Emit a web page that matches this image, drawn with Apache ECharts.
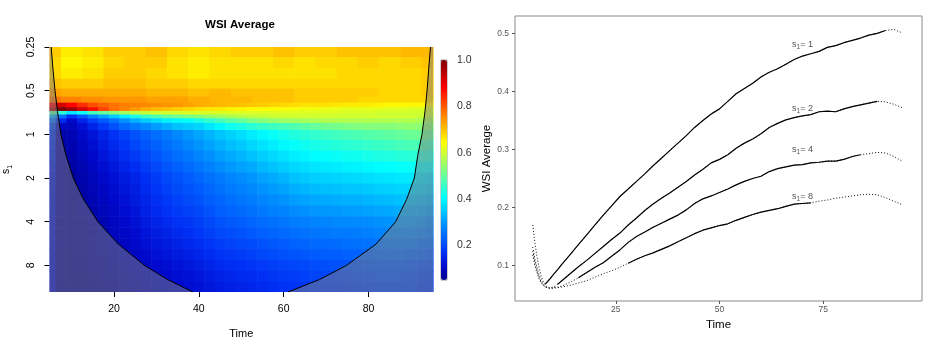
<!DOCTYPE html>
<html>
<head>
<meta charset="utf-8">
<title>WSI Average</title>
<script src="https://cdn.jsdelivr.net/npm/echarts@6/dist/echarts.min.js"></script>
<style>
  html, body { margin: 0; padding: 0; background: #fff; }
  #chart { width: 939px; height: 352px; }
</style>
</head>
<body>
<div id="chart"></div>
<script>
const FONT = '"Liberation Sans", Arial, Helvetica, sans-serif'

// ---- left panel: WSI average over time and scale ----
// upper band (small scales) is nearly flat, read at a coarser time step
const heatTimesTop = [5, 10, 15, 20, 25, 30, 35, 40, 45, 50, 55, 60, 65, 70, 75, 80, 85, 90, 95]
const heatScalesTop = [0.27, 0.32, 0.38, 0.45, 0.52, 0.58]
const heatValuesTop = [
  [0.69, 0.66, 0.67, 0.69, 0.69, 0.70, 0.68, 0.67, 0.68, 0.69, 0.69, 0.70, 0.69, 0.69, 0.70, 0.70, 0.70, 0.71, 0.71],
  [0.68, 0.65, 0.66, 0.68, 0.69, 0.69, 0.67, 0.66, 0.67, 0.67, 0.67, 0.68, 0.67, 0.68, 0.68, 0.69, 0.68, 0.69, 0.70],
  [0.68, 0.66, 0.67, 0.69, 0.69, 0.68, 0.67, 0.66, 0.67, 0.67, 0.67, 0.67, 0.67, 0.67, 0.68, 0.68, 0.68, 0.68, 0.69],
  [0.70, 0.69, 0.69, 0.70, 0.70, 0.69, 0.69, 0.68, 0.68, 0.68, 0.68, 0.68, 0.68, 0.68, 0.68, 0.68, 0.68, 0.68, 0.69],
  [0.73, 0.72, 0.72, 0.72, 0.72, 0.71, 0.71, 0.70, 0.71, 0.70, 0.70, 0.70, 0.69, 0.69, 0.69, 0.69, 0.68, 0.68, 0.69],
  [0.77, 0.76, 0.75, 0.74, 0.74, 0.73, 0.73, 0.72, 0.71, 0.71, 0.70, 0.70, 0.69, 0.69, 0.69, 0.68, 0.68, 0.68, 0.68]
]
// transition band and large scales, read every 2.5 time units
const heatTimesLow = [5, 7.5, 10, 12.5, 15, 17.5, 20, 22.5, 25, 27.5, 30, 32.5, 35, 37.5, 40, 42.5, 45, 47.5, 50,
  52.5, 55, 57.5, 60, 62.5, 65, 67.5, 70, 72.5, 75, 77.5, 80, 82.5, 85, 87.5, 90, 92.5, 95]
const heatScalesLow = [0.63, 0.67, 0.71, 0.75, 0.8, 0.87, 1, 1.19, 1.41, 1.68, 2, 2.38, 2.83, 3.36,
  4, 4.76, 5.66, 6.73, 8, 9.51, 11.3]
const heatValuesLow = [
  [.88, .92, .88, .84, .81, .79, .775, .765, .76, .755, .75, .745, .74, .73, .72, .715, .71, .705, .70, .695, .69, .685, .68, .675, .67, .67, .67, .665, .66, .66, .66, .655, .65, .65, .65, .65, .65],
  [.95, 1.0, .97, .92, .87, .82, .78, .76, .74, .72, .71, .70, .69, .68, .67, .665, .66, .655, .65, .645, .64, .64, .635, .635, .63, .63, .625, .625, .62, .62, .62, .62, .615, .615, .61, .61, .61],
  [.50, .45, .38, .42, .47, .50, .53, .56, .58, .59, .60, .60, .605, .61, .61, .61, .61, .61, .61, .61, .61, .61, .61, .61, .61, .61, .61, .61, .605, .605, .605, .60, .60, .60, .60, .60, .60],
  [.33, .25, .17, .22, .27, .31, .35, .39, .43, .46, .48, .50, .51, .52, .53, .545, .555, .565, .575, .585, .59, .595, .60, .60, .60, .60, .60, .60, .60, .60, .60, .60, .60, .60, .60, .595, .59],
  [.25, .16, .11, .15, .19, .22, .25, .29, .32, .35, .37, .39, .40, .41, .43, .45, .47, .49, .50, .52, .53, .54, .55, .555, .56, .565, .57, .57, .57, .57, .57, .57, .57, .57, .57, .565, .56],
  [.20, .10, .095, .12, .15, .18, .21, .24, .26, .28, .30, .32, .34, .35, .36, .38, .40, .42, .43, .445, .455, .465, .47, .48, .49, .50, .51, .515, .52, .525, .53, .53, .53, .535, .54, .535, .53],
  [.170, .073, .085, .106, .127, .149, .170, .191, .211, .229, .245, .261, .278, .295, .311, .327, .344, .358, .370, .386, .400, .412, .425, .435, .443, .453, .461, .466, .472, .478, .484, .489, .494, .499, .505, .506, .500],
  [.160, .072, .080, .099, .118, .138, .158, .177, .196, .213, .229, .245, .261, .277, .292, .307, .323, .337, .348, .363, .376, .388, .400, .411, .419, .428, .435, .440, .445, .450, .455, .460, .465, .470, .474, .474, .467],
  [.151, .071, .074, .092, .110, .128, .146, .164, .181, .198, .214, .230, .245, .259, .273, .288, .303, .316, .327, .340, .353, .364, .376, .388, .396, .404, .410, .414, .419, .422, .427, .432, .436, .441, .444, .442, .435],
  [.142, .070, .069, .084, .101, .117, .133, .150, .165, .183, .198, .214, .228, .241, .254, .268, .282, .295, .305, .316, .330, .340, .352, .364, .372, .379, .384, .387, .392, .394, .399, .404, .407, .411, .413, .409, .403],
  [.132, .069, .063, .077, .092, .106, .121, .136, .150, .167, .182, .198, .211, .223, .235, .248, .261, .274, .283, .293, .306, .316, .327, .340, .348, .354, .358, .361, .365, .366, .370, .375, .378, .382, .382, .377, .370],
  [.130, .069, .063, .074, .088, .101, .115, .129, .143, .160, .174, .189, .201, .212, .223, .236, .249, .260, .269, .278, .290, .299, .309, .321, .328, .334, .337, .340, .344, .345, .348, .354, .357, .360, .360, .355, .347],
  [.129, .068, .063, .072, .084, .096, .109, .122, .136, .152, .166, .179, .191, .201, .211, .224, .236, .247, .255, .264, .274, .283, .291, .302, .308, .313, .316, .319, .322, .323, .327, .332, .335, .339, .338, .332, .324],
  [.127, .068, .062, .069, .079, .091, .103, .115, .128, .145, .158, .170, .180, .189, .199, .211, .224, .233, .240, .249, .258, .266, .272, .282, .288, .293, .295, .298, .301, .302, .305, .311, .314, .317, .316, .310, .301],
  [.125, .067, .062, .066, .075, .086, .097, .108, .121, .137, .150, .160, .170, .178, .187, .199, .211, .219, .226, .234, .242, .249, .254, .263, .268, .272, .274, .277, .279, .280, .283, .289, .292, .295, .294, .287, .278],
  [.123, .067, .062, .065, .073, .083, .093, .103, .114, .128, .140, .150, .159, .167, .176, .187, .198, .205, .212, .219, .227, .233, .239, .246, .251, .255, .257, .260, .262, .264, .267, .272, .275, .277, .275, .268, .259],
  [.122, .067, .062, .065, .072, .080, .089, .098, .108, .120, .131, .139, .148, .156, .164, .175, .185, .192, .198, .204, .211, .218, .223, .230, .234, .239, .241, .243, .246, .248, .251, .255, .257, .259, .256, .249, .241],
  [.120, .066, .061, .064, .070, .076, .084, .092, .101, .111, .121, .129, .136, .144, .153, .162, .171, .178, .183, .189, .196, .202, .208, .213, .217, .222, .224, .226, .229, .231, .234, .238, .240, .240, .236, .229, .222],
  [.118, .066, .061, .063, .068, .073, .080, .087, .094, .102, .111, .118, .125, .133, .141, .150, .158, .164, .169, .174, .180, .186, .192, .196, .200, .205, .207, .209, .212, .215, .218, .221, .222, .222, .217, .210, .203],
  [.116, .065, .060, .062, .066, .070, .076, .082, .088, .095, .103, .109, .116, .123, .131, .139, .147, .153, .158, .163, .169, .175, .181, .184, .188, .193, .195, .197, .200, .203, .206, .209, .210, .210, .206, .199, .192],
  [.114, .064, .060, .061, .064, .067, .072, .077, .083, .089, .096, .102, .108, .115, .123, .130, .138, .144, .149, .154, .159, .165, .171, .174, .178, .183, .185, .187, .190, .193, .195, .198, .199, .199, .196, .190, .183]
]

// cone of influence (time at each scale)
const coneScales = [0.25, 0.35, 0.5, 0.7, 1, 1.4, 2, 2.8, 4, 5.7, 8, 10, 12.2]
const coneLeft = [5.2, 5.6, 6.1, 6.7, 7.5, 8.7, 10.4, 12.8, 16.2, 21.0, 27.2, 32.6, 38.6]
const coneRight = [94.6, 94.2, 93.8, 93.3, 92.6, 91.6, 90.8, 89.0, 86.4, 81.8, 74.8, 68.5, 61.0]

const scaleTicks = [0.25, 0.5, 1, 2, 4, 8]
const timeTicksLeft = [20, 40, 60, 80]
const colorTicks = [0.2, 0.4, 0.6, 0.8, 1.0]

// ---- right panel: WSI average at fixed scales ----
const lineTimes = [5, 5.5, 6, 6.5, 7, 7.5, 8, 9, 10, 11, 12, 14, 16, 18, 20, 22, 24, 26, 28, 30,
  32, 34, 36, 38, 40, 42, 44, 46, 48, 50, 52, 54, 56, 58, 60, 62, 64, 66, 68, 70,
  72, 74, 76, 78, 80, 82, 84, 86, 88, 90, 92, 94]
const wsiS1 = [0.170, 0.140, 0.116, 0.097, 0.083, 0.073, 0.068, 0.076, 0.085, 0.093, 0.102, 0.119, 0.136, 0.153, 0.170, 0.187, 0.203, 0.219, 0.232, 0.245,
  0.258, 0.272, 0.285, 0.298, 0.311, 0.324, 0.338, 0.350, 0.361, 0.370, 0.383, 0.396, 0.405, 0.414, 0.425, 0.433, 0.439, 0.447, 0.455, 0.461,
  0.465, 0.469, 0.476, 0.479, 0.484, 0.488, 0.492, 0.497, 0.500, 0.505, 0.507, 0.501]
const wsiS2 = [0.132, 0.112, 0.097, 0.085, 0.076, 0.069, 0.065, 0.062, 0.063, 0.068, 0.074, 0.086, 0.098, 0.109, 0.121, 0.133, 0.145, 0.156, 0.170, 0.182,
  0.195, 0.206, 0.216, 0.225, 0.235, 0.245, 0.256, 0.266, 0.277, 0.283, 0.291, 0.302, 0.311, 0.318, 0.327, 0.338, 0.345, 0.351, 0.355, 0.358,
  0.360, 0.365, 0.366, 0.365, 0.370, 0.374, 0.377, 0.380, 0.383, 0.382, 0.378, 0.372]
const wsiS4 = [0.125, 0.106, 0.092, 0.080, 0.072, 0.067, 0.063, 0.061, 0.062, 0.063, 0.065, 0.071, 0.079, 0.088, 0.097, 0.105, 0.116, 0.127, 0.140, 0.150,
  0.158, 0.166, 0.173, 0.180, 0.187, 0.196, 0.207, 0.215, 0.220, 0.226, 0.232, 0.239, 0.245, 0.250, 0.254, 0.262, 0.267, 0.270, 0.273, 0.274,
  0.277, 0.278, 0.280, 0.280, 0.283, 0.288, 0.291, 0.293, 0.295, 0.294, 0.288, 0.280]
const wsiS8 = [0.118, 0.100, 0.088, 0.077, 0.070, 0.066, 0.063, 0.061, 0.061, 0.062, 0.063, 0.066, 0.070, 0.074, 0.080, 0.086, 0.091, 0.097, 0.104, 0.111,
  0.117, 0.122, 0.128, 0.134, 0.141, 0.148, 0.155, 0.161, 0.165, 0.169, 0.172, 0.178, 0.183, 0.188, 0.192, 0.195, 0.198, 0.202, 0.206, 0.207,
  0.208, 0.211, 0.213, 0.216, 0.218, 0.220, 0.222, 0.223, 0.222, 0.217, 0.211, 0.205]
const lineScales = [1, 2, 4, 8]
const solidFrom = [8, 11, 16, 28]   // inside the cone -> solid
const solidTo = [90, 88, 84, 72]
const labelTime = 70
const labelValues = [0.481, 0.371, 0.300, 0.219]
const timeTicksRight = [25, 50, 75]
const wsiTicks = [0.1, 0.2, 0.3, 0.4, 0.5]

// jet-like palette, stops every 1/16 of the range (blues a touch lighter, as in the picture)
const palette = ['#00008F', '#0008CC', '#0030F5', '#0060FF', '#0090FF', '#00C8FF', '#00FFFF', '#40FFBF', '#80FF80',
  '#BFFF40', '#FFFF00', '#FFBF00', '#FF8000', '#FF4000', '#FF0000', '#BF0000', '#800000']

// cell bounds for the heatmap rectangles
const allScales = heatScalesTop.concat(heatScalesLow)
const scaleEdges = allScales.map((s, j) => [
  j === 0 ? 0.25 : Math.sqrt(allScales[j - 1] * s),
  j === allScales.length - 1 ? 12.2 : Math.sqrt(s * allScales[j + 1])
])
function timeEdgesOf(times) {
  return times.map((t, i) => [
    i === 0 ? 4.8 : (times[i - 1] + t) / 2,
    i === times.length - 1 ? 95.2 : (t + times[i + 1]) / 2
  ])
}
const heatCells = []
function addCells(times, values, rowOffset) {
  const te = timeEdgesOf(times)
  values.forEach((row, j) => {
    const se = scaleEdges[j + rowOffset]
    row.forEach((v, i) => heatCells.push([te[i][0], te[i][1], se[0], se[1], v]))
  })
}
addCells(heatTimesTop, heatValuesTop, 0)
addCells(heatTimesLow, heatValuesLow, heatScalesTop.length)

const wsiSeries = [wsiS1, wsiS2, wsiS4, wsiS8]
const lineSeries = []
wsiSeries.forEach((vals, k) => {
  const pts = lineTimes.map((t, i) => [t, vals[i]])
  lineSeries.push({
    type: 'line', xAxisIndex: 1, yAxisIndex: 1, data: pts, symbol: 'none', silent: true,
    lineStyle: { color: '#111', width: 1, type: [1, 2] }
  })
  lineSeries.push({
    type: 'line', xAxisIndex: 1, yAxisIndex: 1, symbol: 'none', silent: true,
    data: pts.filter(p => p[0] >= solidFrom[k] && p[0] <= solidTo[k]),
    lineStyle: { color: '#000', width: 1.2 }
  })
})

const subRich = {
  s: { fontSize: 9, color: '#222', fontFamily: FONT, lineHeight: 13 },
  sub: { fontSize: 6.5, color: '#222', fontFamily: FONT, lineHeight: 13, verticalAlign: 'bottom' }
}

const chart = echarts.init(document.getElementById('chart'))
chart.setOption({
  animation: false,
  backgroundColor: '#fff',
  textStyle: { fontFamily: FONT },
  title: {
    text: 'WSI Average', left: 240, top: 19, textAlign: 'center', padding: 0,
    textStyle: { fontSize: 11.5, fontWeight: 'bold', color: '#000', fontFamily: FONT }
  },
  grid: [
    { left: 48, top: 47, width: 385, height: 245 },
    { left: 515, top: 16, width: 407, height: 285, show: true, borderColor: '#8a8a8a', borderWidth: 1 },
    { left: 441, top: 60, width: 6, height: 220, show: true, borderColor: '#555', borderWidth: 0.6 }
  ],
  visualMap: {
    type: 'continuous', seriesIndex: 0, dimension: 4, min: 0.05, max: 1.0,
    left: 441, top: 60, itemWidth: 6, itemHeight: 220, padding: 0,
    calculable: false, hoverLink: false, text: null,
    inRange: { color: palette }
  },
  xAxis: [
    {
      gridIndex: 0, type: 'value', min: 4.8, max: 95.2,
      name: 'Time', nameLocation: 'middle', nameGap: 36,
      nameTextStyle: { fontSize: 11, color: '#000' },
      axisLine: { show: false }, splitLine: { show: false },
      axisTick: { show: true, length: 5, customValues: timeTicksLeft, lineStyle: { color: '#000' } },
      axisLabel: { customValues: timeTicksLeft, fontSize: 10.5, color: '#000', margin: 12 }
    },
    {
      gridIndex: 1, type: 'value', min: 0.72, max: 98.8,
      name: 'Time', nameLocation: 'middle', nameGap: 11,
      nameTextStyle: { fontSize: 11.5, color: '#000' },
      axisLine: { show: false }, splitLine: { show: false },
      axisTick: { show: true, length: 3, customValues: timeTicksRight, lineStyle: { color: '#555' } },
      axisLabel: { customValues: timeTicksRight, fontSize: 8.5, color: '#555', margin: 4 }
    },
    { gridIndex: 2, type: 'value', show: false, min: 0, max: 1 }
  ],
  yAxis: [
    {
      gridIndex: 0, type: 'log', logBase: 2, min: 0.25, max: 12.2, inverse: true,
      name: '{s|s}{sub|1}', nameLocation: 'middle', nameGap: 36,
      nameTextStyle: { rich: { s: { fontSize: 10.5, color: '#000', lineHeight: 14 }, sub: { fontSize: 7, color: '#000', lineHeight: 14, verticalAlign: 'bottom' } } },
      axisLine: { show: false }, splitLine: { show: false },
      axisTick: { show: true, length: 5, customValues: scaleTicks, lineStyle: { color: '#000' } },
      axisLabel: { customValues: scaleTicks, rotate: 90, fontSize: 10.5, color: '#000', margin: 13,
        formatter: v => String(+(+v).toFixed(2)) }
    },
    {
      gridIndex: 1, type: 'value', min: 0.039, max: 0.53,
      name: 'WSI Average', nameLocation: 'middle', nameGap: 17,
      nameTextStyle: { fontSize: 11.5, color: '#000' },
      axisLine: { show: false }, splitLine: { show: false },
      axisTick: { show: true, length: 3, customValues: wsiTicks, lineStyle: { color: '#555' } },
      axisLabel: { customValues: wsiTicks, fontSize: 8.5, color: '#555', margin: 6, formatter: v => (+v).toFixed(1) }
    },
    {
      gridIndex: 2, type: 'value', position: 'right', min: 0.05, max: 1.0,
      axisLine: { show: false }, splitLine: { show: false },
      axisTick: { show: true, length: 4, customValues: colorTicks, lineStyle: { color: '#444' } },
      axisLabel: { customValues: colorTicks, fontSize: 10.5, color: '#333', margin: 10, formatter: v => (+v).toFixed(1) }
    }
  ],
  series: [
    {
      type: 'custom', xAxisIndex: 0, yAxisIndex: 0, data: heatCells, silent: true, clip: true,
      encode: { x: [0, 1], y: [2, 3] },
      renderItem: (params, api) => {
        const a = api.coord([api.value(0), api.value(2)])
        const b = api.coord([api.value(1), api.value(3)])
        return {
          type: 'rect',
          shape: {
            x: Math.min(a[0], b[0]), y: Math.min(a[1], b[1]),
            width: Math.abs(b[0] - a[0]) + 0.6, height: Math.abs(b[1] - a[1]) + 0.6
          },
          style: { fill: api.visual('color') }
        }
      }
    },
    {
      // shading outside the cone of influence
      type: 'custom', xAxisIndex: 0, yAxisIndex: 0, silent: true, clip: true,
      data: [[4.8, 0.25], [95.2, 0.25]],
      encode: { x: 0, y: 1 },
      renderItem: (params, api) => {
        const side = params.dataIndex === 0 ? coneLeft : coneRight
        const edge = params.dataIndex === 0 ? 4.8 : 95.2
        const pts = [api.coord([edge, 0.25])]
        coneScales.forEach((s, k) => pts.push(api.coord([side[k], s])))
        pts.push(api.coord([edge, 12.2]))
        return { type: 'polygon', shape: { points: pts }, style: { fill: 'rgba(128,128,128,0.5)' } }
      }
    },
    {
      type: 'line', xAxisIndex: 0, yAxisIndex: 0, symbol: 'none', silent: true,
      data: coneScales.map((s, k) => [coneLeft[k], s]),
      lineStyle: { color: '#000', width: 1 }
    },
    {
      type: 'line', xAxisIndex: 0, yAxisIndex: 0, symbol: 'none', silent: true,
      data: coneScales.map((s, k) => [coneRight[k], s]),
      lineStyle: { color: '#000', width: 1 }
    },
    ...lineSeries,
    {
      type: 'scatter', xAxisIndex: 1, yAxisIndex: 1, symbolSize: 0, silent: true,
      data: labelValues.map(v => [labelTime, v]),
      label: {
        show: true, position: 'inside',
        formatter: p => '{s|s}{sub|1}{s|= ' + lineScales[p.dataIndex] + '}',
        rich: subRich
      }
    }
  ]
})
</script>
</body>
</html>
